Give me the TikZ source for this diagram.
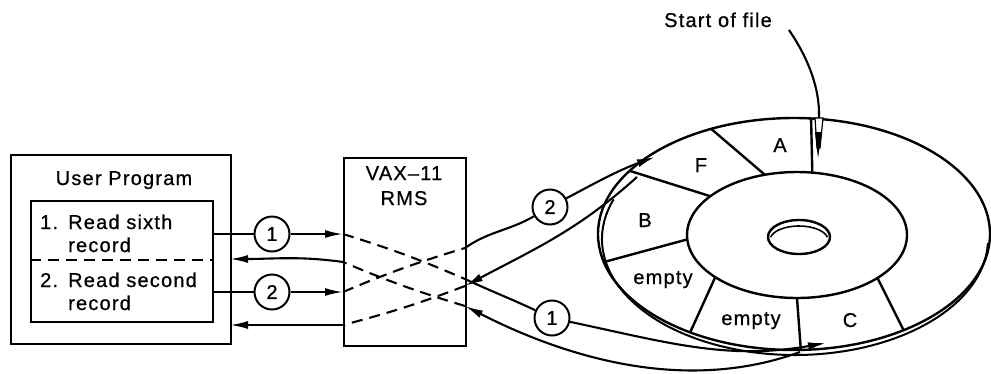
\documentclass[tikz,border=0pt]{standalone}
\usepackage{fontspec}
\setmainfont{Liberation Sans}[LetterSpace=6, FakeBold=0.7]
\usetikzlibrary{arrows.meta,calc}
\newcommand{\lblfont}{\fontsize{20pt}{22pt}\selectfont}
\begin{document}
\begin{tikzpicture}[x=1pt,y=1pt,
  lbl/.style={font=\lblfont, inner sep=0pt, anchor=base},
  box/.style={draw, line width=2.3pt, inner sep=0pt, anchor=north west},
  num/.style={draw, circle, line width=2pt, minimum size=35pt, inner sep=0pt, fill=white, font=\lblfont},
  wire/.style={line width=2.1pt},
  rim/.style={line width=2.4pt},
  dsh/.style={line width=2.1pt, dash pattern=on 11pt off 7pt},
  tip/.style={-{Latex[length=18pt,width=8pt]}}]
\useasboundingbox (0,0) rectangle (991,-373);

% --- user program block ---
\node[box, minimum width=220pt, minimum height=189pt] (user) at (10,-154) {};
\node[box, minimum width=182pt, minimum height=121pt] (prog) at (30,-200) {};
\draw[dsh] ($(prog.north west)+(0,-60)$) -- ($(prog.north east)+(0,-60)$);
\node[lbl] (title) at (124,-185) {User Program};
\node[lbl, anchor=base west] (n1) at (40,-229) {1.};
\node[lbl, anchor=base west] (r1a) at (68,-229) {Read sixth};
\node[lbl, anchor=base west] (r1b) at (68,-252) {record};
\node[lbl, anchor=base west] (n2) at (40,-287) {2.};
\node[lbl, anchor=base west] (r2a) at (68,-287) {Read second};
\node[lbl, anchor=base west] (r2b) at (68,-310) {record};

% --- RMS block ---
\node[box, minimum width=122pt, minimum height=188pt] (vax) at (343,-157) {};
\node[lbl] (vaxa) at (404,-180) {VAX--11};
\node[lbl] (vaxb) at (404,-205) {RMS};

% --- request numbers ---
\node[num] (ka) at (272,-234) {1};
\node[num] (kb) at (272,-292) {2};
\node[num] (kc) at (550,-207) {2};
\node[num] (kd) at (552,-318) {1};

% points where the paths cross the RMS box
\coordinate (a1) at (343,-234);
\coordinate (a2) at (343,-292);
\coordinate (b1) at (343,-262);
\coordinate (b2) at (343,-325);
\coordinate (e1) at (465,-279);
\coordinate (e2) at (465,-306);
\coordinate (e3) at (465,-248);
\coordinate (e4) at (465,-286);
\coordinate (u1) at (230,-259);
\coordinate (u2) at (230,-325);

% requests into RMS and replies back
\draw[wire] (prog.east |- ka) -- (ka);
\draw[wire,tip] (ka) -- (a1);
\draw[wire] (prog.east |- kb) -- (kb);
\draw[wire,tip] (kb) -- (a2);
\draw[wire,tip] (b1) to[out=172,in=0] (u1);
\draw[wire,tip] (b2) -- (u2);

% crossing paths through RMS
\draw[dsh] (a1) to[bend left=3] (e1);
\draw[dsh] (e2) to[bend left=3] (b1);
\draw[dsh] (a2) to[bend left=3] (e3);
\draw[dsh] (e4) to[bend left=3] (b2);

% --- disk ---
\coordinate (O) at (794,-234);
\coordinate (H) at (797,-235);
\coordinate (P) at (799,-237);
\draw[rim] (O) ellipse [x radius=196, y radius=116];
\draw[line width=2pt] ($(O)+(1,-5)+(160:193 and 116)$) arc [start angle=160, end angle=358, x radius=193, y radius=116];
\draw[rim] (H) ellipse [x radius=110, y radius=63];
\draw[rim] (P) ellipse [x radius=31, y radius=17];
\draw[line width=1.6pt] ($(P)+(0,-3)+(12:29 and 14)$) arc [start angle=12, end angle=168, x radius=29, y radius=14];
\foreach \hi/\oi in {82/85, 107/115, 142/147, 184/194, 222/238, 270/272, 317/304}
  \draw[rim] ($(H)+(\hi:110 and 63)$) -- ($(O)+(\oi:196 and 116)$);
\node[lbl] (sa) at (780,-152) {A};
\node[lbl] (sf) at (701,-172) {F};
\node[lbl] (sb) at (645,-227) {B};
\node[lbl] (se1) at (663,-284) {empty};
\node[lbl] (se2) at (751,-325) {empty};
\node[lbl] (sc) at (850,-327) {C};

% --- paths between RMS and the disk ---
\coordinate (t1) at (826,-343);
\coordinate (s1) at (800,-352);
\coordinate (t2) at (655,-157);
\coordinate (s2) at (637,-177);
\draw[wire] (e1) to[out=-25,in=155] (kd);
\draw[wire,tip] (kd) to[out=-12,in=190] (t1);
\draw[wire,tip] (s1) to[out=200,in=-27,looseness=0.9] (e2);
\draw[wire] (e3) to[out=35,in=210] (kc);
\draw[wire,tip] (kc) to[out=28,in=200] (t2);
\draw[wire,tip] (s2) to[out=222,in=28] (e4);

% --- start of file marker ---
\node[lbl] (start) at (718,-27) {Start of file};
\coordinate (m0) at (789,-30);
\coordinate (m1) at (819,-118);
\draw[wire] (m0) .. controls (808,-58) and (820,-88) .. (m1);
\draw[line width=1.2pt, fill=white] (815,-118) -- (823,-118) -- (820,-148) -- (817,-148) -- cycle;
\fill (815,-132) -- (822,-132) -- (818,-158) -- cycle;
\end{tikzpicture}
\end{document}
